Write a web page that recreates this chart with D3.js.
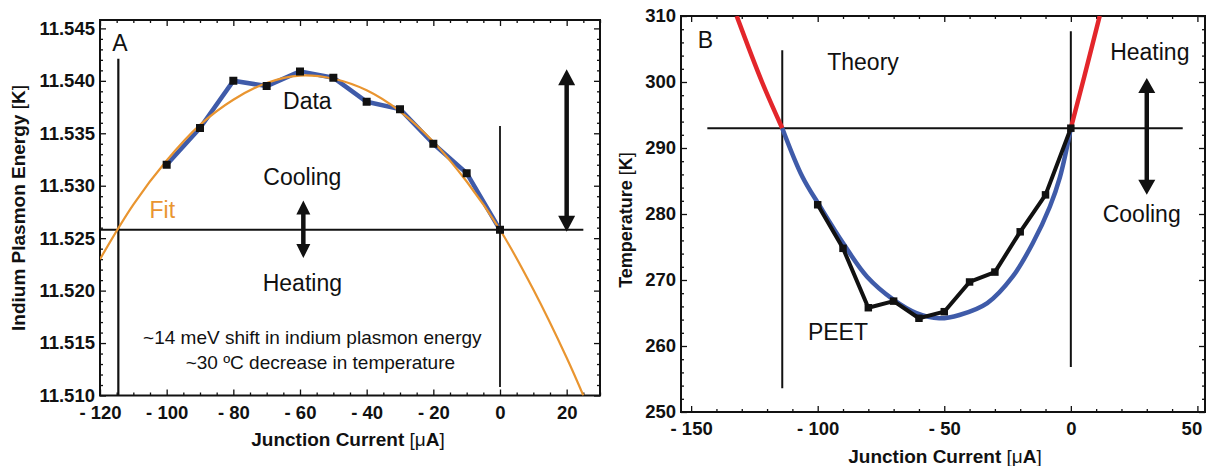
<!DOCTYPE html>
<head>
  <meta charset="utf-8" />
  <script src="https://d3js.org/d3.v7.min.js"></script>
  <style>
    body { margin: 0; background: #fff; }
    text { font-family: "Liberation Sans", Arial, sans-serif; fill: #111; }
  </style>
</head>
<body>
<script>
  // Panel A : measured data + fit
  var currentA = [-100, -90, -80, -70, -60, -50, -40, -30, -20, -10, 0];
  var energyA = [11.5320, 11.5355, 11.5400, 11.5395, 11.5409, 11.5403, 11.5380, 11.5373, 11.5340, 11.5312, 11.5258];
  var fitCurrent = [-120, -110, -100, -90, -80, -70, -60, -50, -40, -30, -20, -10, 0, 10, 20, 25];
  var fitEnergy = [11.5230, 11.5282, 11.5324, 11.5358, 11.5382, 11.5398, 11.5405, 11.5402, 11.5391, 11.5371, 11.5342, 11.5304, 11.5258, 11.5201, 11.5136, 11.5100];
  var ticksXA = [-120, -100, -80, -60, -40, -20, 0, 20];
  var ticksYA = [11.510, 11.515, 11.520, 11.525, 11.530, 11.535, 11.540, 11.545];

  // Panel B : theory + PEET
  var theoryCurrent = [-132, -122, -114, -106, -99, -90, -80.5, -70, -61, -52, -44, -33, -23, -15, -8.3, -4.3, 0, 5.3, 11.4];
  var theoryTemp = [310, 300, 293, 285.6, 281.1, 275.6, 270.5, 267.0, 265.0, 264.2, 264.7, 266.5, 270.5, 275.6, 281.1, 285.6, 293, 300.8, 310];
  var peetCurrent = [-100, -90, -80, -70, -60, -50, -40, -30, -20, -10, 0];
  var peetTemp = [281.4, 274.8, 265.8, 266.8, 264.2, 265.2, 269.7, 271.2, 277.3, 282.9, 293.0];
  var ticksXB = [-150, -100, -50, 0, 50];
  var ticksYB = [250, 260, 270, 280, 290, 300, 310];

  var blue = "#3f5ba9", orange = "#e99530", red = "#e3262b";

  var svg = d3.select("body").append("svg").attr("width", 1206).attr("height", 466);
  var defs = svg.append("defs");

  var xA = d3.scaleLinear().domain([-120, 30]).range([100, 600]);
  var yA = d3.scaleLinear().domain([11.510, 11.5458]).range([395.5, 20]);
  var xB = d3.scaleLinear().domain([-154, 53]).range([681, 1205]);
  var yB = d3.scaleLinear().domain([250, 310]).range([412, 16]);

  function fmtX(d) { return d < 0 ? "- " + Math.abs(d) : d; }

  function frame(g, x, y, xMaj, xMin, yMaj, yMin, fx, fy) {
    var xr = x.range(), yr = y.range();
    function ax(gen, tr, vals, size, fmt, pad) {
      var a = g.append("g").attr("transform", tr)
        .call(gen.tickValues(vals).tickSize(size).tickSizeOuter(0).tickPadding(pad || 3).tickFormat(fmt));
      a.select(".domain").remove();
      a.selectAll("line").attr("stroke", "#111").attr("stroke-width", 1.3);
      a.attr("font-size", 18.5).attr("font-weight", "bold");
      return a;
    }
    ax(d3.axisBottom(x), "translate(0," + yr[0] + ")", xMaj, -6, fx, 10);
    ax(d3.axisBottom(x), "translate(0," + yr[0] + ")", xMin, -3, "");
    ax(d3.axisTop(x), "translate(0," + yr[1] + ")", xMaj, -6, "");
    ax(d3.axisTop(x), "translate(0," + yr[1] + ")", xMin, -3, "");
    ax(d3.axisLeft(y), "translate(" + xr[0] + ",0)", yMaj, -6, fy, 5);
    ax(d3.axisLeft(y), "translate(" + xr[0] + ",0)", yMin, -3, "");
    ax(d3.axisRight(y), "translate(" + xr[1] + ",0)", yMaj, -6, "");
    ax(d3.axisRight(y), "translate(" + xr[1] + ",0)", yMin, -3, "");
    g.append("rect").attr("x", xr[0]).attr("y", yr[1])
      .attr("width", xr[1] - xr[0]).attr("height", yr[0] - yr[1])
      .attr("fill", "none").attr("stroke", "#111").attr("stroke-width", 2);
  }

  function clip(id, x, y) {
    defs.append("clipPath").attr("id", id).append("rect")
      .attr("x", x.range()[0]).attr("y", y.range()[1])
      .attr("width", x.range()[1] - x.range()[0]).attr("height", y.range()[0] - y.range()[1]);
  }

  function seg(g, x1, y1, x2, y2, w) {
    g.append("line").attr("x1", x1).attr("y1", y1).attr("x2", x2).attr("y2", y2)
      .attr("stroke", "#111").attr("stroke-width", w || 2);
  }

  function doubleArrow(g, x, y1, y2, hw, hh) {
    seg(g, x, y1 + hh - 2, x, y2 - hh + 2, 4.5);
    g.append("path").attr("fill", "#111")
      .attr("d", "M" + x + "," + y1 + "L" + (x + hw / 2) + "," + (y1 + hh) + "L" + (x - hw / 2) + "," + (y1 + hh) + "Z" +
        "M" + x + "," + y2 + "L" + (x + hw / 2) + "," + (y2 - hh) + "L" + (x - hw / 2) + "," + (y2 - hh) + "Z");
  }

  function label(g, t, x, y, size, color) {
    return g.append("text").attr("x", x).attr("y", y).attr("text-anchor", "middle")
      .attr("dominant-baseline", "central").attr("font-size", size)
      .style("fill", color || "#111").text(t);
  }

  function unitTitle(g, x, y, rot, main, unit, size) {
    var t = g.append("text").attr("text-anchor", "middle").attr("font-size", size)
      .attr("transform", "translate(" + x + "," + y + ") rotate(" + rot + ")");
    t.append("tspan").attr("font-weight", "bold").text(main + " ");
    t.append("tspan").attr("font-weight", "normal").text("[");
    t.append("tspan").attr("font-weight", unit == "K" ? "bold" : "normal").text(unit.slice(0, -1));
    t.append("tspan").attr("font-weight", "bold").text(unit.slice(-1));
    t.append("tspan").attr("font-weight", "normal").text("]");
  }

  // ---------- Panel A ----------
  var gA = svg.append("g");
  clip("clipA", xA, yA);
  frame(gA, xA, yA, ticksXA, d3.range(-120, 31, 5).filter(function (v) { return v % 20 != 0; }),
    ticksYA, d3.range(11.510, 11.5455, 0.001).filter(function (v, i) { return i % 5 != 0; }),
    fmtX, d3.format(".3f"));

  seg(gA, xA(-114.5), yA(11.5100), xA(-114.5), yA(11.5421), 2.2);
  seg(gA, xA(0), yA(11.5108), xA(0), yA(11.5357), 1.8);
  seg(gA, xA(-120), yA(11.5258), xA(25), yA(11.5258), 2);

  var plotA = gA.append("g").attr("clip-path", "url(#clipA)");
  var lineA = d3.line().x(function (d) { return xA(d[0]); }).y(function (d) { return yA(d[1]); });
  plotA.append("path").datum(d3.zip(currentA, energyA)).attr("d", lineA)
    .attr("fill", "none").attr("stroke", blue).attr("stroke-width", 4.5).attr("stroke-linejoin", "round");
  plotA.append("path").datum(d3.zip(fitCurrent, fitEnergy)).attr("d", lineA.curve(d3.curveCatmullRom))
    .attr("fill", "none").attr("stroke", orange).attr("stroke-width", 2.2);
  plotA.selectAll(".sq").data(d3.zip(currentA, energyA)).join("path")
    .attr("d", d3.symbol(d3.symbolSquare, 64))
    .attr("transform", function (d) { return "translate(" + xA(d[0]) + "," + yA(d[1]) + ")"; })
    .attr("fill", "#111");

  doubleArrow(gA, xA(-59), yA(11.5286), yA(11.5231), 14, 14);
  doubleArrow(gA, xA(20), yA(11.5411), yA(11.5256), 17, 16);

  label(gA, "A", xA(-114), yA(11.5436), 23);
  label(gA, "Data", xA(-57.8), yA(11.5381), 23);
  label(gA, "Cooling", xA(-59.3), yA(11.5308), 23);
  label(gA, "Fit", xA(-101.3), yA(11.5277), 23, orange);
  label(gA, "Heating", xA(-59.3), yA(11.5207), 23);
  label(gA, "~14 meV shift in indium plasmon energy", xA(-56.3), yA(11.5155), 19);
  label(gA, "~30 \u00baC decrease in temperature", xA(-53.9), yA(11.5131), 19);

  unitTitle(gA, 348, 446, 0, "Junction Current", "\u03bcA", 19);
  unitTitle(gA, 25, 208, -90, "Indium Plasmon Energy", "K", 19);

  // ---------- Panel B ----------
  var gB = svg.append("g");
  clip("clipB", xB, yB);
  frame(gB, xB, yB, ticksXB, d3.range(-150, 51, 10).filter(function (v) { return v % 50 != 0; }),
    ticksYB, d3.range(250, 311, 2).filter(function (v) { return v % 10 != 0; }),
    fmtX, d3.format("d"));
  // keep the last tick label inside the page
  gB.selectAll("text").filter(function (d) { return d === 50; }).attr("dx", -6);

  seg(gB, xB(-114), yB(253.6), xB(-114), yB(304.8), 2);
  seg(gB, xB(0), yB(256.8), xB(0), yB(307.7), 2);
  seg(gB, xB(-143.6), yB(293), xB(44.2), yB(293), 2);

  var plotB = gB.append("g").attr("clip-path", "url(#clipB)");
  var lineB = d3.line().x(function (d) { return xB(d[0]); }).y(function (d) { return yB(d[1]); })
    .curve(d3.curveCatmullRom);
  var theory = d3.zip(theoryCurrent, theoryTemp);
  var parts = [
    [theory.filter(function (d) { return d[0] <= -114; }), red],
    [theory.filter(function (d) { return d[0] >= 0; }), red],
    [theory.filter(function (d) { return d[0] >= -114 && d[0] <= 0; }), blue]
  ];
  parts.forEach(function (p) {
    plotB.append("path").datum(p[0]).attr("d", lineB)
      .attr("fill", "none").attr("stroke", p[1]).attr("stroke-width", 4.5);
  });
  var peet = d3.zip(peetCurrent, peetTemp);
  plotB.append("path").datum(peet).attr("d", lineB.curve(d3.curveLinear))
    .attr("fill", "none").attr("stroke", "#111").attr("stroke-width", 4).attr("stroke-linejoin", "round");
  plotB.selectAll(".sq").data(peet).join("path")
    .attr("d", d3.symbol(d3.symbolSquare, 56))
    .attr("transform", function (d) { return "translate(" + xB(d[0]) + "," + yB(d[1]) + ")"; })
    .attr("fill", "#111");

  doubleArrow(gB, xB(30), yB(300.6), yB(282.9), 17, 15);

  label(gB, "B", xB(-144.4), yB(306.4), 23);
  label(gB, "Theory", xB(-82.1), yB(303), 23);
  label(gB, "PEET", xB(-92), yB(262.1), 23);
  label(gB, "Heating", xB(31.2), yB(304.5), 23);
  label(gB, "Cooling", xB(28), yB(280), 23);

  unitTitle(gB, 945, 463, 0, "Junction Current", "\u03bcA", 19);
  unitTitle(gB, 632, 220, -90, "Temperature", "K", 18);
</script>
</body>
